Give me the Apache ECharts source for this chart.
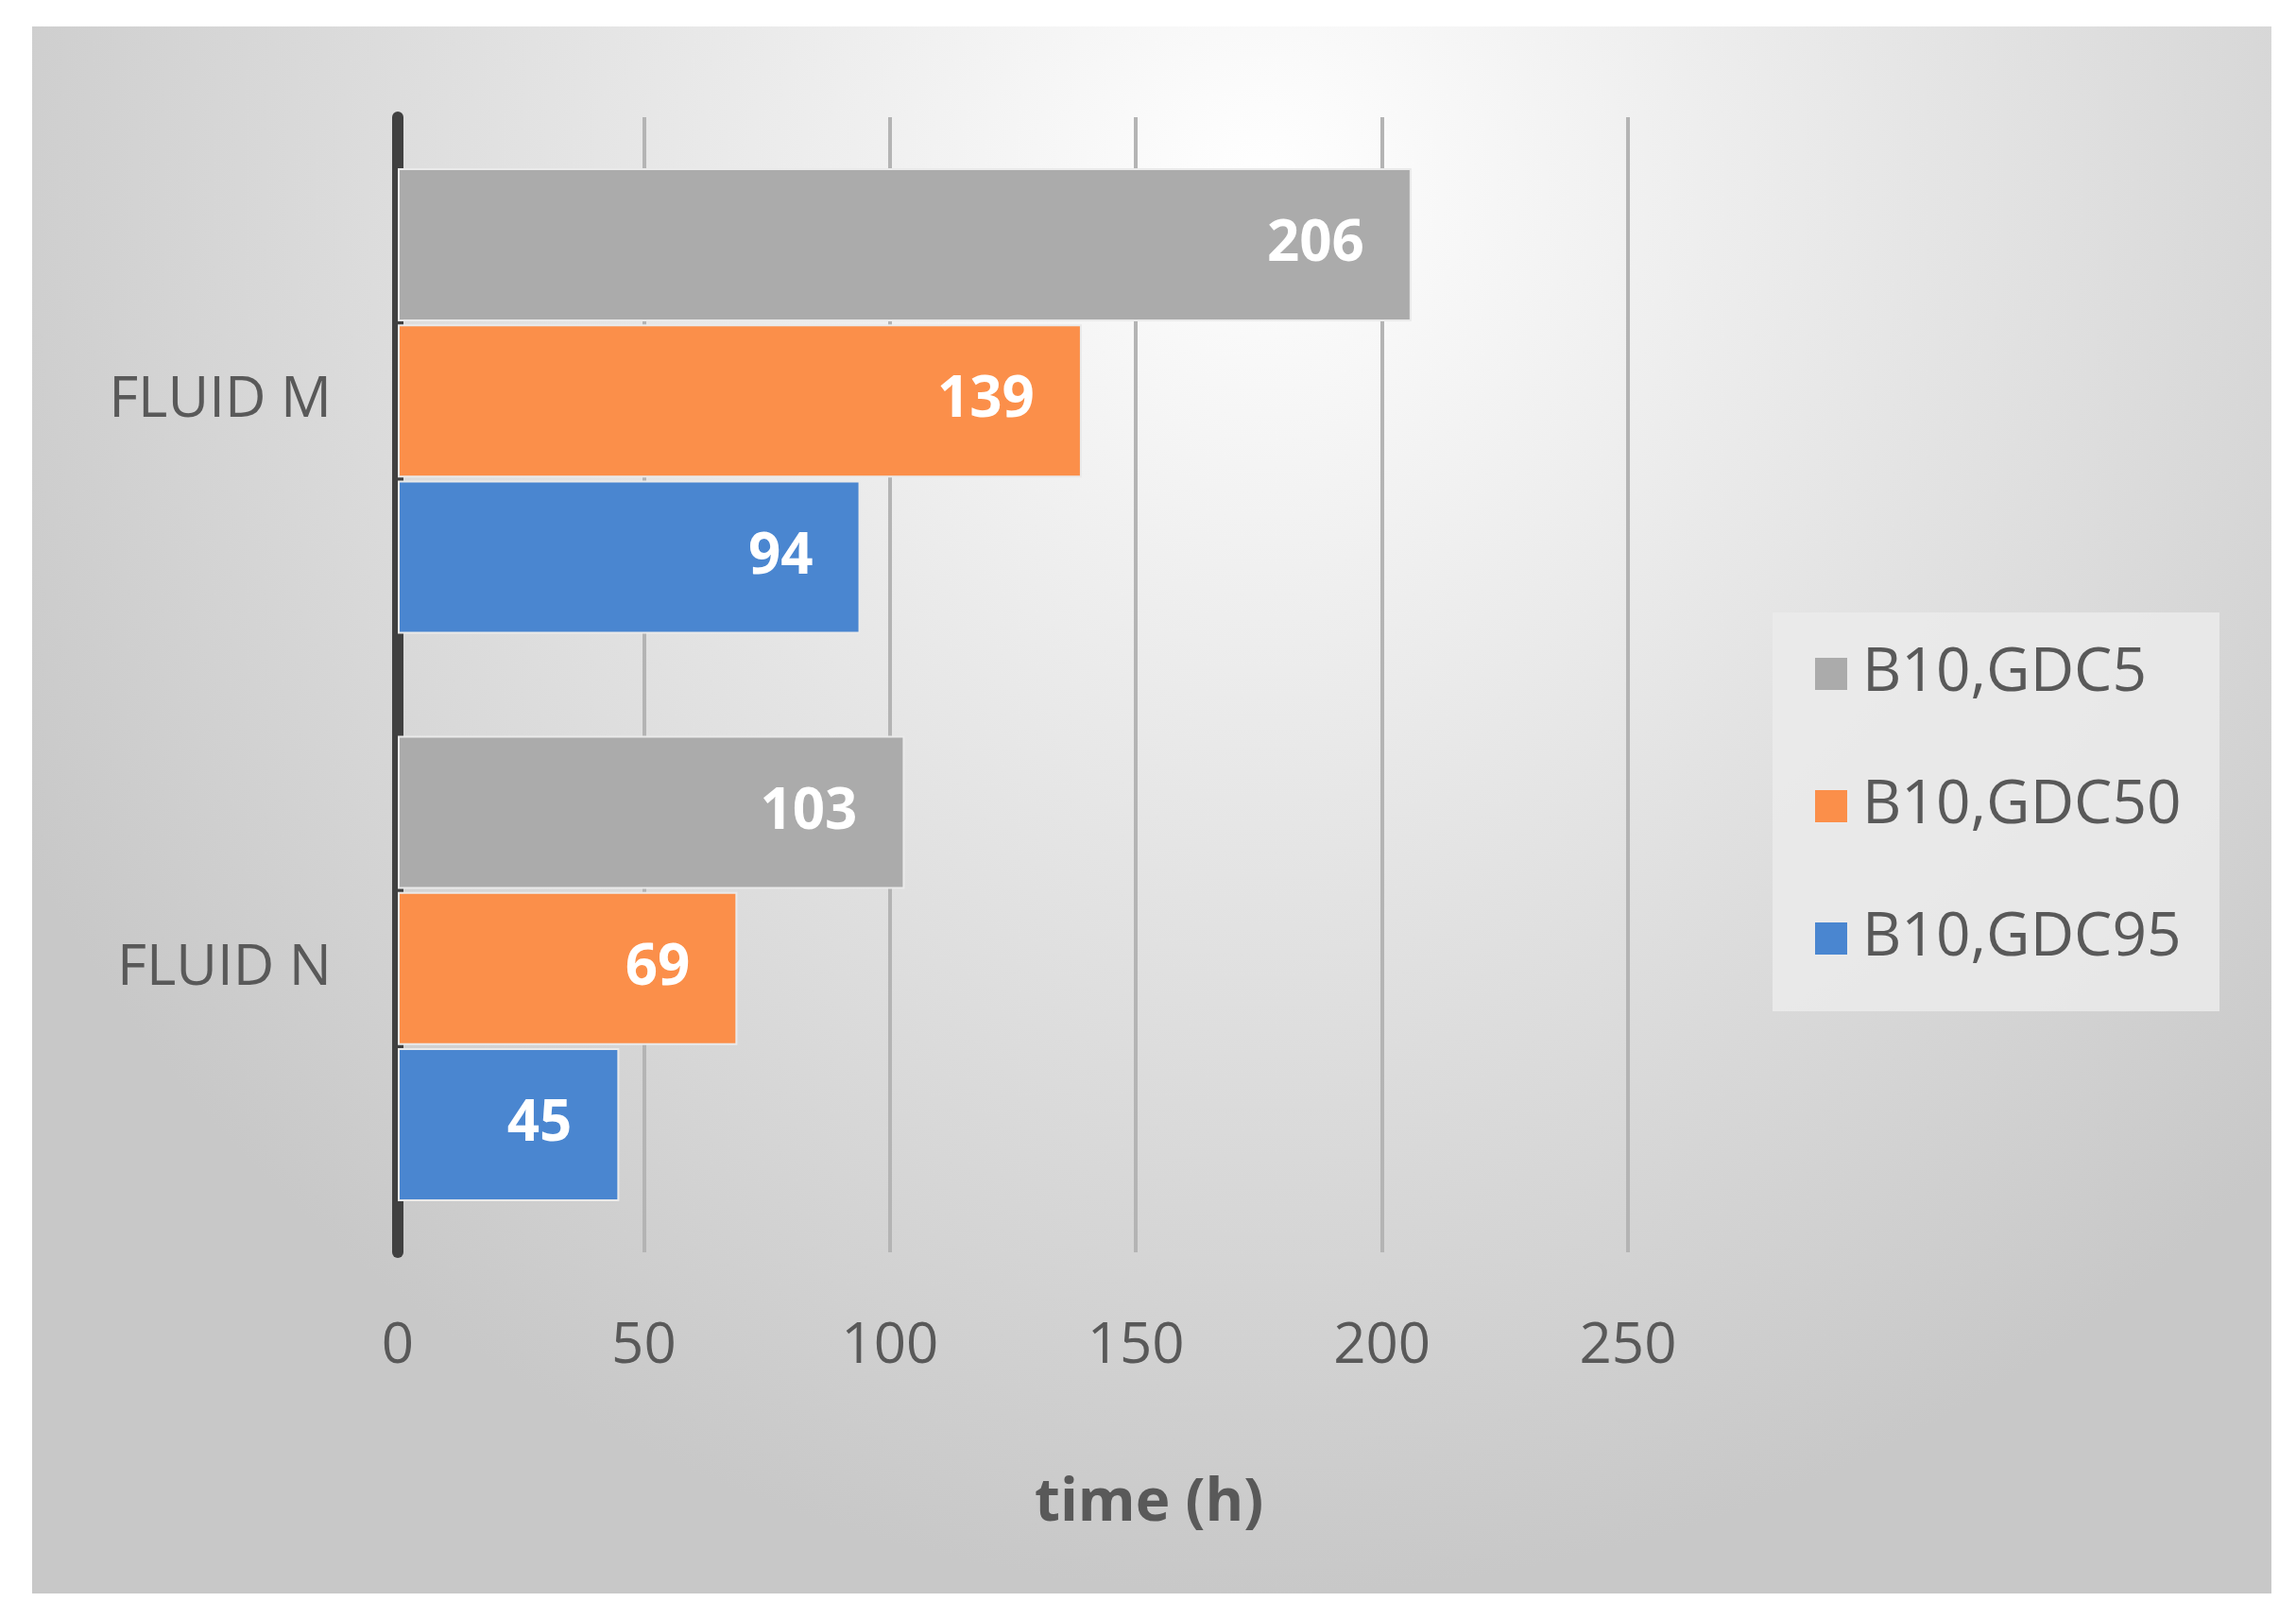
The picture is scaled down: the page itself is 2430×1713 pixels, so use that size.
<!DOCTYPE html>
<html>
<head>
<meta charset="utf-8">
<script src="https://cdn.jsdelivr.net/npm/echarts@6/dist/echarts.min.js"></script>
<style>
  html, body { margin: 0; padding: 0; background: #fff; }
  #chart1 { width: 2430px; height: 1713px; }
</style>
</head>
<body>
<div id="chart1"></div>
<script>
// categories listed bottom to top
const categories = ['FLUID N', 'FLUID M'];
const gdc5 = [103, 206];
const gdc50 = [69, 139];
const gdc95 = [45, 94];
const xTicks = [0, 50, 100, 150, 200, 250];

const labelStyle = {
    show: true,
    position: 'insideRight',
    color: '#fff',
    fontFamily: 'Open Sans',
    fontWeight: 'bold',
    fontSize: 60,
    distance: 50
};

const getOptionChart1 = () => {
    return {
        graphic: [
            {
                type: 'rect',
                z: -10,
                shape: { x: 34, y: 28, width: 2370, height: 1658 },
                style: {
                    fill: new echarts.graphic.RadialGradient(0.55, 0.1, 0.9, [
                        { offset: 0, color: '#ffffff' },
                        { offset: 1, color: '#c8c8c8' }
                    ])
                }
            },
            {
                type: 'rect',
                z: -5,
                shape: { x: 1876, y: 648, width: 473, height: 422 },
                style: { fill: 'rgba(235,235,235,0.85)' }
            },
            {
                type: 'text',
                left: 1225 - 130,
                top: 1560,
                style: {
                    text: 'time (h)',
                    fill: '#595959',
                    font: 'bold 62px "Open Sans"'
                }
            }
        ],
        legend: {
            data: ['B10,GDC5', 'B10,GDC50', 'B10,GDC95'],
            orient: 'vertical',
            left: 1914,
            top: 676,
            itemWidth: 36,
            itemHeight: 36,
            itemGap: 76,
            icon: 'rect',
            textStyle: {
                color: '#595959',
                fontFamily: 'Open Sans',
                fontSize: 64,
                padding: [0, 0, 0, 10]
            }
        },
        grid: { left: 421, right: 707, top: 124, bottom: 388 },
        xAxis: {
            type: 'value',
            min: 0,
            max: 250,
            interval: 50,
            axisLabel: {
                margin: 70,
                color: '#595959',
                fontFamily: 'Open Sans',
                fontSize: 60,
                formatter: v => xTicks.includes(v) ? String(v) : ''
            },
            splitLine: { lineStyle: { color: '#b4b4b4', width: 4 } },
            axisLine: { show: false },
            axisTick: { show: false }
        },
        yAxis: {
            type: 'category',
            data: categories,
            axisLine: { lineStyle: { color: '#404040', width: 12 } },
            axisTick: { show: false },
            axisLabel: {
                margin: 70,
                color: '#595959',
                fontFamily: 'Open Sans',
                fontSize: 60
            }
        },
        series: [
            {
                name: 'B10,GDC5', type: 'bar', data: gdc5,
                barGap: '2%', barCategoryGap: '18%',
                itemStyle: { color: '#ababab', borderColor: '#eaeaea', borderWidth: 2 },
                label: labelStyle
            },
            {
                name: 'B10,GDC50', type: 'bar', data: gdc50,
                itemStyle: { color: '#fb8f4a', borderColor: '#eaeaea', borderWidth: 2 },
                label: labelStyle
            },
            {
                name: 'B10,GDC95', type: 'bar', data: gdc95,
                itemStyle: { color: '#4a86d0', borderColor: '#eaeaea', borderWidth: 2 },
                label: labelStyle
            }
        ]
    };
};

window.addEventListener('load', () => {
    const chart1 = echarts.init(document.getElementById('chart1'));
    chart1.setOption(getOptionChart1());
});
</script>
</body>
</html>
